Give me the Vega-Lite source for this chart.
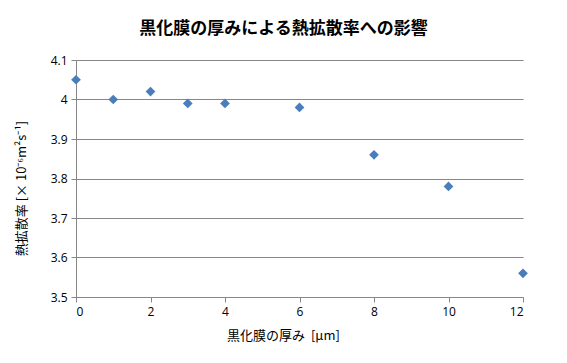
{
  "$schema": "https://vega.github.io/schema/vega-lite/v6.json",
  "autosize": "none",
  "width": 447,
  "height": 237,
  "padding": {"left": 76, "top": 60, "right": 44, "bottom": 66},
  "background": "white",
  "title": {
    "text": "黒化膜の厚みによる熱拡散率への影響",
    "font": "Noto Sans CJK JP",
    "fontSize": 17,
    "fontWeight": "bold",
    "color": "#000000",
    "anchor": "middle",
    "dx": -16,
    "offset": 16
  },
  "data": {
    "values": [
      {"t": 0, "d": 4.05},
      {"t": 1, "d": 4.0},
      {"t": 2, "d": 4.02},
      {"t": 3, "d": 3.99},
      {"t": 4, "d": 3.99},
      {"t": 6, "d": 3.98},
      {"t": 8, "d": 3.86},
      {"t": 10, "d": 3.78},
      {"t": 12, "d": 3.56}
    ]
  },
  "mark": {"type": "point", "shape": "diamond", "filled": true, "size": 95, "color": "#4a7ebb", "opacity": 1},
  "encoding": {
    "x": {
      "field": "t", "type": "quantitative",
      "scale": {"domain": [0, 12], "nice": false},
      "axis": {
        "title": "黒化膜の厚み\u00a0\u00a0[µm]",
        "values": [0, 2, 4, 6, 8, 10, 12],
        "grid": false,
        "titleX": 207,
        "titleFontWeight": "normal",
        "titleFontSize": 13,
        "titlePadding": 12
      }
    },
    "y": {
      "field": "d", "type": "quantitative",
      "scale": {"domain": [3.5, 4.1], "nice": false, "zero": false},
      "axis": {
        "title": "熱拡散率 [× 10⁻⁶m²s⁻¹]",
        "values": [3.5, 3.6, 3.7, 3.8, 3.9, 4.0, 4.1],
        "format": "~g",
        "grid": true,
        "titleFontWeight": "normal",
        "titleFontSize": 13,
        "titlePadding": 22,
        "titleY": 128
      }
    }
  },
  "config": {
    "view": {"stroke": null},
    "axis": {
      "domainColor": "#878787",
      "tickColor": "#878787",
      "gridColor": "#878787",
      "gridWidth": 1,
      "tickSize": 5,
      "labelFont": "Open Sans",
      "labelFontSize": 12,
      "labelColor": "#000000",
      "titleFont": "Noto Sans CJK JP",
      "titleColor": "#000000",
      "labelPadding": 4
    }
  }
}
